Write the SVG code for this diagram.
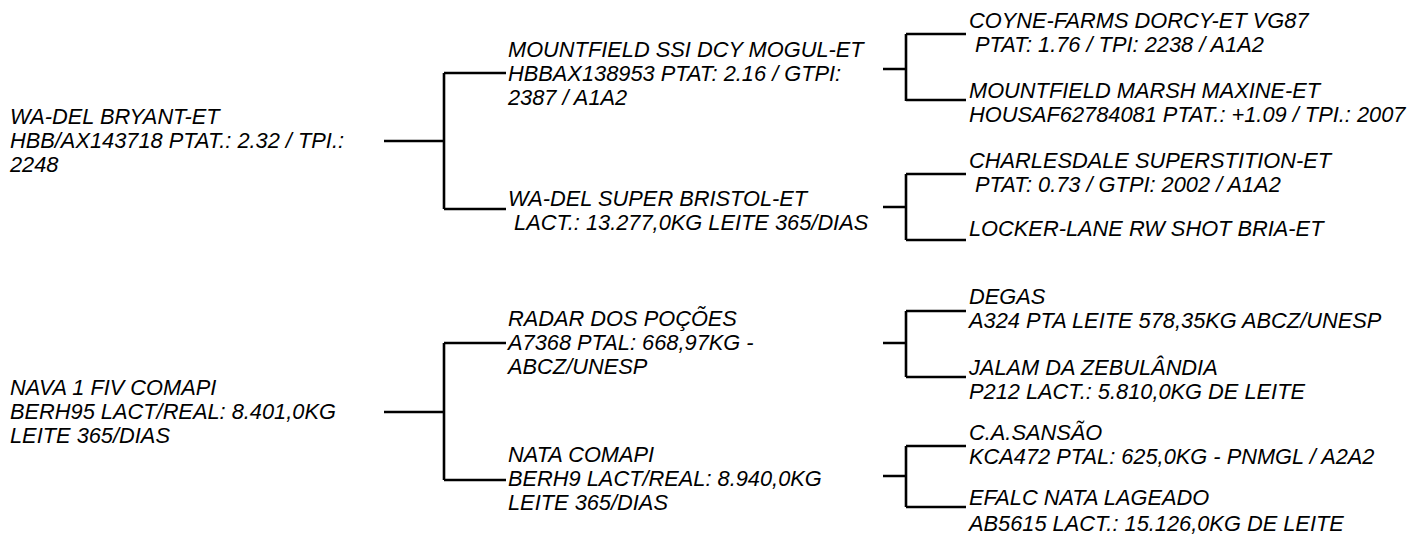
<svg xmlns="http://www.w3.org/2000/svg" width="1409" height="536" viewBox="0 0 1409 536">
<style>
text{font-family:"Liberation Sans",Arial,sans-serif;font-style:italic;font-size:21.8px;fill:#000}
.c path{fill:none;stroke:#000;stroke-width:2.6}
</style>
<rect width="1409" height="536" fill="#fff"/>
<g class="c" id="connectors">
<path d="M384 141H444M444 73V209M444 73H506M444 209H506"/>
<path d="M883 69H906M906 34V101M906 34H966M906 100H966"/>
<path d="M883 207H906M906 174V240M906 174H966M906 240H966"/>
<path d="M384 412H444M444 343V480M444 343H506M444 480H506"/>
<path d="M883 343H906M906 311V377M906 311H966M906 377H966"/>
<path d="M883 476H906M906 446V507M906 446H966M906 507H966"/>
</g>
<g id="n1"><text x="10" y="124">WA-DEL BRYANT-ET</text><text x="10" y="148">HBB/AX143718 PTAT.: 2.32 / TPI.:</text><text x="10" y="172">2248</text></g>
<g id="n2"><text x="508" y="57">MOUNTFIELD SSI DCY MOGUL-ET</text><text x="508" y="81">HBBAX138953 PTAT: 2.16 / GTPI:</text><text x="508" y="105">2387 / A1A2</text></g>
<g id="n3"><text x="508" y="206">WA-DEL SUPER BRISTOL-ET</text><text x="508" y="230" xml:space="preserve"> LACT.: 13.277,0KG LEITE 365/DIAS</text></g>
<g id="n4"><text x="969" y="28">COYNE-FARMS DORCY-ET VG87</text><text x="969" y="52" xml:space="preserve"> PTAT: 1.76 / TPI: 2238 / A1A2</text></g>
<g id="n5"><text x="969" y="98">MOUNTFIELD MARSH MAXINE-ET</text><text x="969" y="122">HOUSAF62784081 PTAT.: +1.09 / TPI.: 2007</text></g>
<g id="n6"><text x="969" y="168">CHARLESDALE SUPERSTITION-ET</text><text x="969" y="192" xml:space="preserve"> PTAT: 0.73 / GTPI: 2002 / A1A2</text></g>
<g id="n7"><text x="969" y="236">LOCKER-LANE RW SHOT BRIA-ET</text></g>
<g id="n8"><text x="10" y="395">NAVA 1 FIV COMAPI</text><text x="10" y="419">BERH95 LACT/REAL: 8.401,0KG</text><text x="10" y="443">LEITE 365/DIAS</text></g>
<g id="n9"><text x="508" y="326">RADAR DOS POÇÕES</text><text x="508" y="350">A7368 PTAL: 668,97KG -</text><text x="508" y="374">ABCZ/UNESP</text></g>
<g id="n10"><text x="508" y="462">NATA COMAPI</text><text x="508" y="486">BERH9 LACT/REAL: 8.940,0KG</text><text x="508" y="510">LEITE 365/DIAS</text></g>
<g id="n11"><text x="969" y="304">DEGAS</text><text x="969" y="328">A324 PTA LEITE 578,35KG ABCZ/UNESP</text></g>
<g id="n12"><text x="969" y="375">JALAM DA ZEBULÂNDIA</text><text x="969" y="399">P212 LACT.: 5.810,0KG DE LEITE</text></g>
<g id="n13"><text x="969" y="440">C.A.SANSÃO</text><text x="969" y="464">KCA472 PTAL: 625,0KG - PNMGL / A2A2</text></g>
<g id="n14"><text x="969" y="505">EFALC NATA LAGEADO</text><text x="969" y="531">AB5615 LACT.: 15.126,0KG DE LEITE</text></g>
</svg>
